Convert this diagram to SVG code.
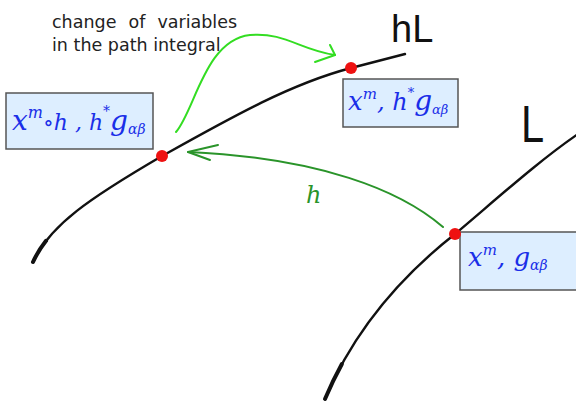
<svg xmlns="http://www.w3.org/2000/svg" width="576" height="403" viewBox="0 0 576 403">
<defs>
<style>
.curve{fill:none;stroke:#111;stroke-width:2.4;stroke-linecap:round}
.tail{fill:none;stroke:#111;stroke-width:4;stroke-linecap:round}
.box{fill:#ddeeff;stroke:#555;stroke-width:1.5}
.dot{fill:#ee1111}
.math{font-family:"DejaVu Serif","Liberation Serif",serif;font-style:italic;fill:#1a2ee8}
.cap{font-family:"DejaVu Sans","Liberation Sans",sans-serif;font-size:17.5px;fill:#222}
.hand{font-family:"Liberation Sans","DejaVu Sans",sans-serif;fill:#111}
</style>
</defs>
<rect width="576" height="403" fill="#fff"/>
<g id="curves">
<path class="curve" d="M33,262 C50,225 90,198 162,156 C230,118 290,84 351,68 L405,54"/>
<path class="curve" d="M325,399 C350,340 390,285 455,234 C500,196 540,160 578,134"/>
<path class="tail" d="M33,262 C36.4,254.6 40.72,247.6 46.03,240.8"/>
<path class="tail" d="M325,399 C330,387.2 335.6,375.56 341.88,364.08"/>
</g>
<g id="connectors">
<path d="M176,132 C195,110 205,40 250,35 C285,32 300,50 335,55" fill="none" stroke="#33dd22" stroke-width="2" stroke-linecap="round"/>
<path d="M330,45 L335,55 L315,62" fill="none" stroke="#33dd22" stroke-width="2" stroke-linecap="round" stroke-linejoin="round"/>
<path d="M443,227 C400,190 320,158 188,152" fill="none" stroke="#2a942a" stroke-width="2" stroke-linecap="round"/>
<path d="M218,145 L188,152 L210,160" fill="none" stroke="#2a942a" stroke-width="2" stroke-linecap="round" stroke-linejoin="round"/>
<text x="306" y="203" font-family="DejaVu Serif, serif" font-style="italic" font-size="24" fill="#2a942a">h</text>
</g>
<g id="caption">
<text class="cap" x="52" y="28" word-spacing="6.5">change of variables</text>
<text class="cap" x="52" y="51">in the path integral</text>
</g>
<g id="label-hL"><text class="hand" x="391" y="42" font-size="38">hL</text></g>
<g id="label-L"><text class="hand" x="521" y="142" font-size="52" transform="translate(521,142) scale(0.8,1) translate(-521,-142)">L</text></g>
<g id="node-left">
<rect class="box" x="6" y="93" width="147" height="56"/>
<text class="math" x="12" y="130" font-size="28">x<tspan font-size="16" dy="-12">m</tspan><tspan font-size="22" dy="12">∘h , h</tspan><tspan font-size="14" dy="-14">*</tspan><tspan font-size="28" dy="14">g</tspan><tspan font-size="14" dy="4">αβ</tspan></text>
</g>
<g id="node-top">
<rect class="box" x="343" y="79" width="115" height="48"/>
<text class="math" x="348" y="110" font-size="26">x<tspan font-size="15" dy="-11">m</tspan><tspan font-size="24" dy="11">, h</tspan><tspan font-size="13" dy="-13">*</tspan><tspan font-size="28" dy="13">g</tspan><tspan font-size="13" dy="4">αβ</tspan></text>
<circle class="dot" cx="351" cy="68" r="6"/>
</g>
<g id="node-right">
<rect class="box" x="460" y="232" width="118" height="58"/>
<text class="math" x="468" y="266" font-size="26">x<tspan font-size="15" dy="-11">m</tspan><tspan font-size="26" dy="11">, g</tspan><tspan font-size="14" dy="4">αβ</tspan></text>
<circle class="dot" cx="455" cy="234" r="6"/>
</g>
<g id="node-left-dot"><circle class="dot" cx="162" cy="156" r="6"/></g>
</svg>
